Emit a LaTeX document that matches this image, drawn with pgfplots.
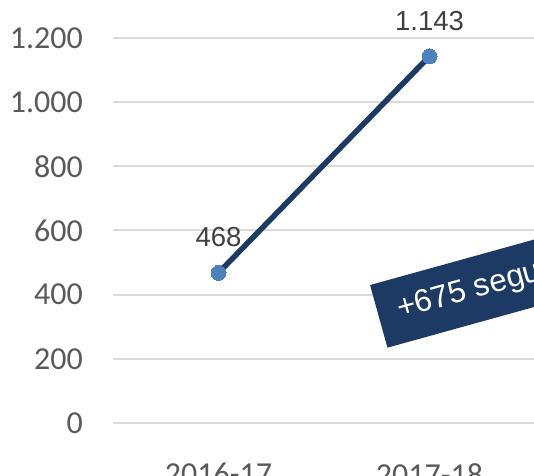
\documentclass[border=0pt]{standalone}
\usepackage{fontspec}
\setmainfont{Carlito}
\newfontfamily\arial{Liberation Sans}
\usepackage{pgfplots}
\pgfplotsset{compat=1.18}
\definecolor{navy}{HTML}{1C3A64}
\definecolor{dotblue}{HTML}{4F81BD}
\definecolor{gridgray}{HTML}{D9D9D9}
\definecolor{ticktext}{HTML}{595959}
\definecolor{labeltext}{HTML}{404040}
\begin{document}
\begin{tikzpicture}
\useasboundingbox (0,0) rectangle (534bp,476bp);
\clip (0,0) rectangle (534bp,476bp);
\begin{axis}[
    at={(113bp,53bp)}, anchor=south west,
    scale only axis,
    width=422bp, height=385bp,
    xmin=-0.5, xmax=1.5,
    ymin=0, ymax=1200,
    xtick={0,1},
    xticklabels={2016-17,2017-18},
    ytick={0,200,...,1200},
    axis line style={draw=none},
    major tick length=0pt,
    ymajorgrids,
    grid style={gridgray, line width=2bp},
    /pgf/number format/.cd, 1000 sep={.}, assume math mode=true,
    /pgfplots/.cd,
    yticklabel style={font=\fontsize{32bp}{38bp}\selectfont, text=ticktext, inner sep=0pt, anchor=east, xshift=-30bp},
    xticklabel style={font=\fontsize{32bp}{38bp}\selectfont, text=ticktext, inner sep=0pt, anchor=north, yshift=-40bp},
    clip=false,
]
\addplot[navy, line width=5.5bp, mark=*, mark size=7.5bp,
    mark options={fill=dotblue, draw=dotblue, line width=0pt},
    nodes near coords,
    every node near coord/.append style={font=\arial\fontsize{27.5bp}{33bp}\selectfont, text=labeltext, anchor=south, inner sep=0pt, yshift=26bp}]
    coordinates {(0,468) (1,1143)};
\node[rotate=15.5, anchor=south west, fill=navy, text=white,
    minimum height=65bp, inner xsep=20bp,
    font=\arial\fontsize{31.5bp}{36bp}\selectfont]
    at (axis cs:0.80,234) {+675 seguidores};
\end{axis}
\end{tikzpicture}
\end{document}
